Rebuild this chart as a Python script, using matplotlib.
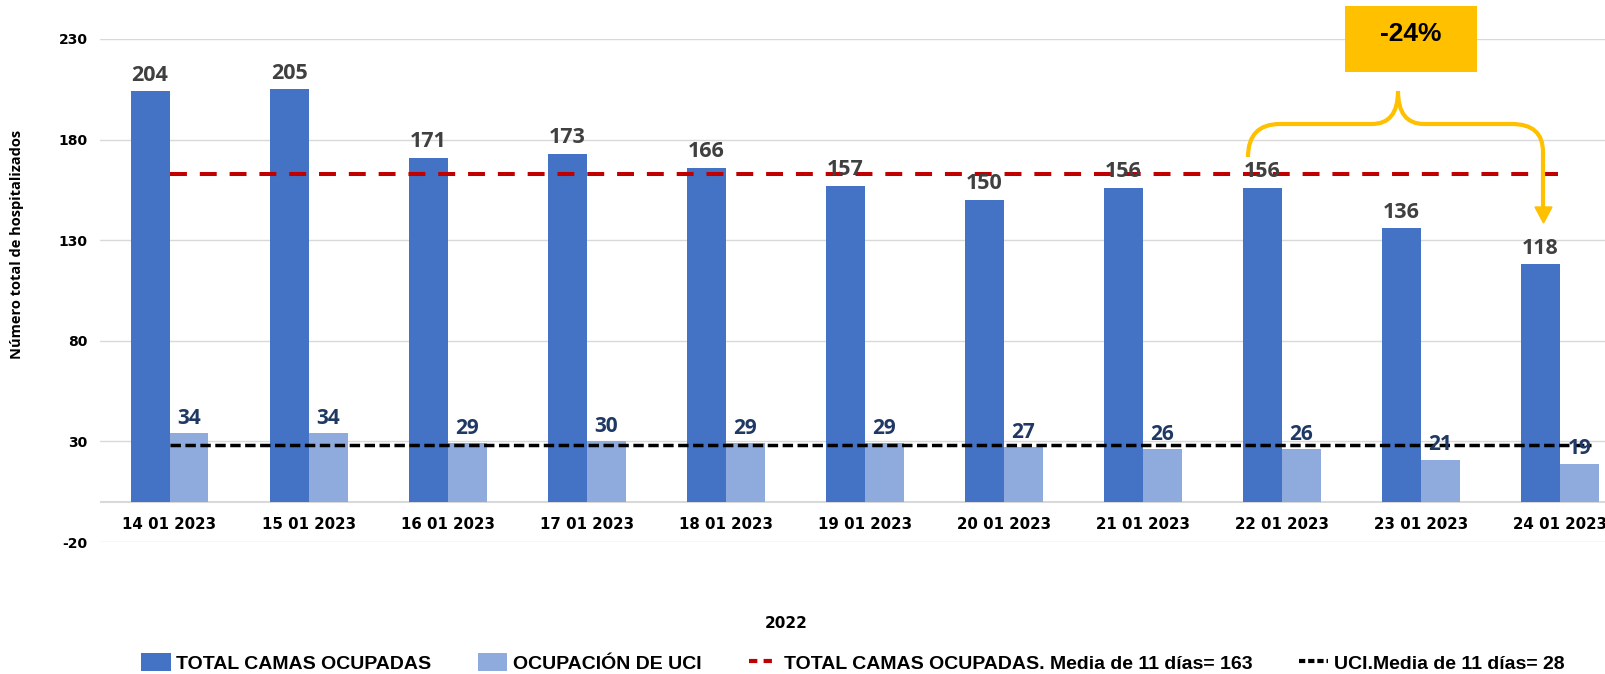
import matplotlib
matplotlib.use("Agg")
import matplotlib.pyplot as plt
from matplotlib.path import Path
from matplotlib.patches import PathPatch, Polygon, Rectangle, Patch
from matplotlib.lines import Line2D
import numpy as np

categories = ["14 01 2023", "15 01 2023", "16 01 2023", "17 01 2023", "18 01 2023",
              "19 01 2023", "20 01 2023", "21 01 2023", "22 01 2023", "23 01 2023", "24 01 2023"]
total_camas = [204, 205, 171, 173, 166, 157, 150, 156, 156, 136, 118]
uci = [34, 34, 29, 30, 29, 29, 27, 26, 26, 21, 19]
media_total = 163
media_uci = 28
yticks = [-20, 30, 80, 130, 180, 230]
legend_labels = ["TOTAL CAMAS OCUPADAS", "OCUPACIÓN DE UCI",
                 "TOTAL CAMAS OCUPADAS. Media de 11 días= 163", "UCI.Media de 11 días= 28"]
x_title = "2022"
y_title = "Número total de hospitalizados"
change_label = "-24%"

W, H = 1606, 674
fig = plt.figure(figsize=(W / 100, H / 100), dpi=100)
ax = fig.add_axes([100 / W, 132 / H, 1529.5 / W, 503 / H])

dark = "#4472C4"
light = "#8FAADC"
x = np.arange(len(categories))
bw = 0.28
ax.bar(x - bw / 2, total_camas, bw, color=dark, zorder=2)
ax.bar(x + bw / 2, uci, bw, color=light, zorder=2)

ax.plot([x[0], x[-1]], [media_total, media_total], color="#C00000", lw=2.9,
        dashes=(4.2, 3.2), zorder=3)
ax.plot([x[0], x[-1] + 0.22], [media_uci, media_uci], color="black", lw=2.5,
        dashes=(3, 1.3), zorder=3)

lab_font = ["Open Sans", "DejaVu Sans"]
for i in range(len(categories)):
    ax.annotate(str(total_camas[i]), (x[i] - bw / 2, total_camas[i]), xytext=(0, 4),
                textcoords="offset points", ha="center", va="bottom",
                fontsize=15.5, fontweight="bold", color="#404040", family=lab_font, zorder=4)
    ax.annotate(str(uci[i]), (x[i] + bw / 2, uci[i]), xytext=(0, 3),
                textcoords="offset points", ha="center", va="bottom",
                fontsize=15, fontweight="bold", color="#1F3864", family=lab_font, zorder=4)
    ax.annotate(categories[i], (x[i], 0), xytext=(0, -23), textcoords="offset pixels",
                ha="center", va="center", fontsize=10.8, fontweight="bold", color="black")

ax.set_xlim(-0.5, 10.5)
ax.set_ylim(-20, 230)
ax.set_yticks(yticks)
ax.set_yticklabels([str(v) for v in yticks], fontsize=10, fontweight="bold")
ax.tick_params(axis="y", length=0, pad=9)
ax.set_xticks([])
ax.grid(axis="y", color="#D9D9D9", lw=1, zorder=0)
ax.axhline(0, color="#D9D9D9", lw=1.5, zorder=1)
for s in ax.spines.values():
    s.set_visible(False)

fig.text(17 / W, 1 - 244 / H, y_title, rotation=90, ha="center", va="center",
         fontsize=10.5, fontweight="bold", family=["Open Sans", "DejaVu Sans"])
fig.text(786 / W, 1 - 623 / H, x_title, ha="center", va="center", fontsize=11, fontweight="bold")

# legend
handles = [Patch(facecolor=dark), Patch(facecolor=light),
           Line2D([], [], color="#C00000", lw=3, dashes=(2, 1.5)),
           Line2D([], [], color="black", lw=3, dashes=(1.5, 0.7))]
leg = fig.legend(handles, legend_labels, loc="center", bbox_to_anchor=(853 / W, 11 / H),
                 ncol=4, frameon=False, handlelength=1.5, handleheight=1.0,
                 columnspacing=2.4, handletextpad=0.3,
                 prop={"family": ["Liberation Sans", "DejaVu Sans"], "weight": "bold", "size": 14})

# annotation bracket and box
def P(px, py):
    return (px / W, 1 - py / H)

verts = [P(1248, 157), P(1248, 124), P(1280, 124),
         P(1372, 124), P(1398, 124), P(1398, 91),
         P(1398, 124), P(1424, 124),
         P(1512, 124), P(1543, 124), P(1543, 152),
         P(1543, 208)]
codes = [Path.MOVETO, Path.CURVE3, Path.CURVE3,
         Path.LINETO, Path.CURVE3, Path.CURVE3,
         Path.CURVE3, Path.CURVE3,
         Path.LINETO, Path.CURVE3, Path.CURVE3,
         Path.LINETO]
gold = "#FFC000"
fig.add_artist(PathPatch(Path(verts, codes), transform=fig.transFigure, fill=False,
                         edgecolor=gold, lw=3))
fig.add_artist(Polygon([P(1535, 207), P(1552, 207), P(1543.5, 223)], closed=True,
                       transform=fig.transFigure, facecolor=gold, edgecolor=gold))
fig.add_artist(Rectangle(P(1345, 72), 132 / W, 66 / H, transform=fig.transFigure,
                         facecolor=gold, edgecolor="none"))
fig.text(1411 / W, 1 - 34 / H, change_label, ha="center", va="center", fontsize=19,
         fontweight="bold", family=["Liberation Sans", "DejaVu Sans"], color="black")

fig.savefig("out.png", dpi=100)
